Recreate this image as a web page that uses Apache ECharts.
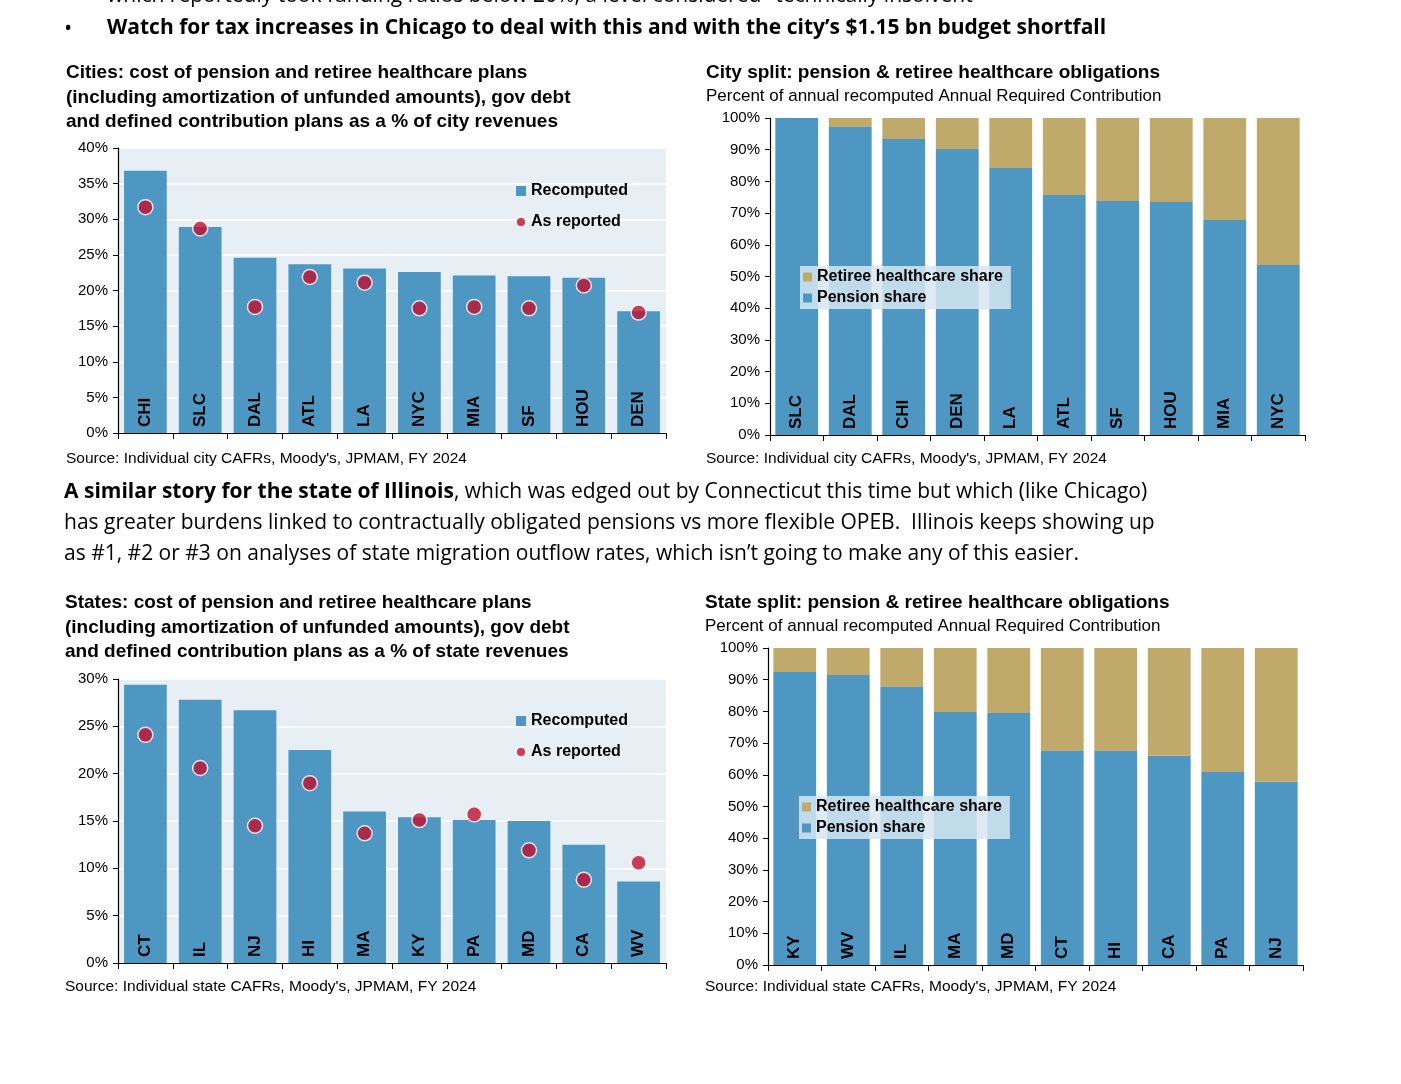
<!DOCTYPE html>
<html><head><meta charset="utf-8">
<script src="https://cdn.jsdelivr.net/npm/echarts@6/dist/echarts.min.js"></script>
<style>html,body{margin:0;padding:0;background:#fff}#c{width:1401px;height:1084px}</style>
</head><body><div id="c"></div>
<script>
const cityCats=['CHI','SLC','DAL','ATL','LA','NYC','MIA','SF','HOU','DEN'];
const cityRecomputed=[36.8,28.9,24.6,23.7,23.1,22.6,22.1,22.0,21.8,17.1];
const cityReported=[31.7,28.7,17.7,21.9,21.1,17.5,17.7,17.5,20.7,16.9];
const citySplitCats=['SLC','DAL','CHI','DEN','LA','ATL','SF','HOU','MIA','NYC'];
const cityPension=[100,97.2,93.4,90.2,84.2,75.7,73.8,73.5,67.8,53.6];
const cityHealth=[0,2.8,6.6,9.8,15.8,24.3,26.2,26.5,32.2,46.4];
const stateCats=['CT','IL','NJ','HI','MA','KY','PA','MD','CA','WV'];
const stateRecomputed=[29.4,27.8,26.7,22.5,16.0,15.4,15.1,15.0,12.5,8.6];
const stateReported=[24.1,20.6,14.5,19.0,13.7,15.1,15.7,11.9,8.8,10.6];
const stateSplitCats=['KY','WV','IL','MA','MD','CT','HI','CA','PA','NJ'];
const statePension=[92.4,91.5,87.7,79.8,79.5,67.5,67.5,66.0,60.9,57.8];
const stateHealth=[7.6,8.5,12.3,20.2,20.5,32.5,32.5,34.0,39.1,42.2];

const BLUE='#4e97c3',KHAKI='#bfa96b',RED='#c0102e';
const F='Liberation Sans, Arial, sans-serif';
const grids=[
 {left:118,top:148,width:548,height:285,show:true,backgroundColor:'#e7eff5',borderWidth:0},
 {left:770,top:118,width:535,height:317},
 {left:118,top:679,width:548,height:284,show:true,backgroundColor:'#e7eff5',borderWidth:0},
 {left:768,top:648,width:535,height:317}
];
const cats=[cityCats,citySplitCats,stateCats,stateSplitCats];
const xAxis=cats.map((c,i)=>({type:'category',gridIndex:i,data:c,
 axisLine:{lineStyle:{color:'#000',width:1.2}},axisTick:{show:true,interval:0,length:6,lineStyle:{color:'#000'}},
 axisLabel:{show:false}}));
const yMax=[40,100,30,100],yInt=[5,10,5,10];
const yAxis=yMax.map((m,i)=>({type:'value',gridIndex:i,min:0,max:m,interval:yInt[i],
 axisLine:{show:true,lineStyle:{color:'#000',width:1.2}},axisTick:{show:true,length:5,lineStyle:{color:'#000'}},
 axisLabel:{formatter:'{value}%',color:'#000',fontSize:15,fontFamily:F,margin:10},
 splitLine:{show:i%2===0,lineStyle:{color:'#fff',width:1.5}}}));
function catLabel(){return {show:true,position:'insideBottom',rotate:90,align:'left',verticalAlign:'middle',distance:6,
 formatter:p=>p.name,color:'#000',fontWeight:'bold',fontSize:17,fontFamily:F};}
const series=[];
[[0,cityRecomputed,cityReported],[2,stateRecomputed,stateReported]].forEach(([g,r,a])=>{
 series.push({name:'Recomputed',type:'bar',xAxisIndex:g,yAxisIndex:g,data:r,barWidth:'78%',itemStyle:{color:BLUE},label:catLabel()});
 series.push({name:'As reported',type:'scatter',xAxisIndex:g,yAxisIndex:g,data:a,symbolSize:15,z:5,itemStyle:{color:RED,borderColor:'#fff',borderWidth:1.5}});
});
[[1,cityPension,cityHealth],[3,statePension,stateHealth]].forEach(([g,p,h])=>{
 series.push({name:'Pension share',type:'bar',stack:'s'+g,xAxisIndex:g,yAxisIndex:g,data:p,barWidth:'80%',itemStyle:{color:BLUE},label:catLabel()});
 series.push({name:'Retiree healthcare share',type:'bar',stack:'s'+g,xAxisIndex:g,yAxisIndex:g,data:h,barWidth:'80%',itemStyle:{color:KHAKI}});
});
const legTxt={color:'#000',fontWeight:'bold',fontSize:16,fontFamily:F};
const legend=[
 {left:510,top:178,orient:'vertical',itemGap:15,itemWidth:10,itemHeight:10,textStyle:legTxt,
  data:[{name:'Recomputed',icon:'rect'},{name:'As reported',icon:'circle'}]},
 {left:510,top:708,orient:'vertical',itemGap:15,itemWidth:10,itemHeight:10,textStyle:legTxt,
  data:[{name:'Recomputed',icon:'rect'},{name:'As reported',icon:'circle'}]},
 {left:800,top:266,orient:'vertical',itemGap:5,itemWidth:9,itemHeight:9,padding:[3,8,3,3],backgroundColor:'rgba(215,230,242,0.85)',textStyle:legTxt,
  data:[{name:'Retiree healthcare share',icon:'rect'},{name:'Pension share',icon:'rect'}]},
 {left:799,top:796,orient:'vertical',itemGap:5,itemWidth:9,itemHeight:9,padding:[3,8,3,3],backgroundColor:'rgba(215,230,242,0.85)',textStyle:legTxt,
  data:[{name:'Retiree healthcare share',icon:'rect'},{name:'Pension share',icon:'rect'}]}
];
function T(x,y,text,size,bold,lh){return {type:'text',left:x,top:y,style:{text,fontSize:size,fontWeight:bold?'bold':'normal',fontFamily:F,fill:'#000',lineHeight:lh||size*1.2}};}
const PF='Open Sans, Noto Sans, sans-serif';
const graphic=[
 {type:'text',left:107,top:-14,style:{text:'which reportedly took funding ratios below 20%, a level considered "technically insolvent"',fontSize:21,fontFamily:PF,fill:'#000'}},
 {type:'text',left:64,top:18,style:{text:'•',fontSize:22,fontFamily:PF,fill:'#000'}},
 {type:'text',left:107,top:18,style:{text:'Watch for tax increases in Chicago to deal with this and with the city\u2019s $1.15 bn budget shortfall',fontSize:21,fontWeight:'bold',fontFamily:PF,fill:'#000'}},
 T(66,61,'Cities: cost of pension and retiree healthcare plans\n(including amortization of unfunded amounts), gov debt\nand defined contribution plans as a % of city revenues',19,true,24.5),
 T(706,61,'City split: pension & retiree healthcare obligations',19,true),
 T(706,86,'Percent of annual recomputed Annual Required Contribution',17,false),
 T(66,449,'Source: Individual city CAFRs, Moody\'s, JPMAM, FY 2024',15.5,false),
 T(706,449,'Source: Individual city CAFRs, Moody\'s, JPMAM, FY 2024',15.5,false),
 {type:'text',left:64,top:482,style:{text:'{b|A similar story for the state of Illinois}{n|, which was edged out by Connecticut this time but which (like Chicago)}\n{n|has greater burdens linked to contractually obligated pensions vs more flexible OPEB.  Illinois keeps showing up}\n{n|as #1, #2 or #3 on analyses of state migration outflow rates, which isn\u2019t going to make any of this easier.}',
  rich:{b:{fontSize:21,fontWeight:'bold',fontFamily:PF,fill:'#000',lineHeight:31},n:{fontSize:21,fontFamily:PF,fill:'#000',lineHeight:31}}}},
 T(65,591,'States: cost of pension and retiree healthcare plans\n(including amortization of unfunded amounts), gov debt\nand defined contribution plans as a % of state revenues',19,true,24.5),
 T(705,591,'State split: pension & retiree healthcare obligations',19,true),
 T(705,616,'Percent of annual recomputed Annual Required Contribution',17,false),
 T(65,977,'Source: Individual state CAFRs, Moody\'s, JPMAM, FY 2024',15.5,false),
 T(705,977,'Source: Individual state CAFRs, Moody\'s, JPMAM, FY 2024',15.5,false)
];
const chart=echarts.init(document.getElementById('c'));
chart.setOption({animation:false,backgroundColor:'#fff',grid:grids,xAxis,yAxis,series,legend,graphic});
</script></body></html>
